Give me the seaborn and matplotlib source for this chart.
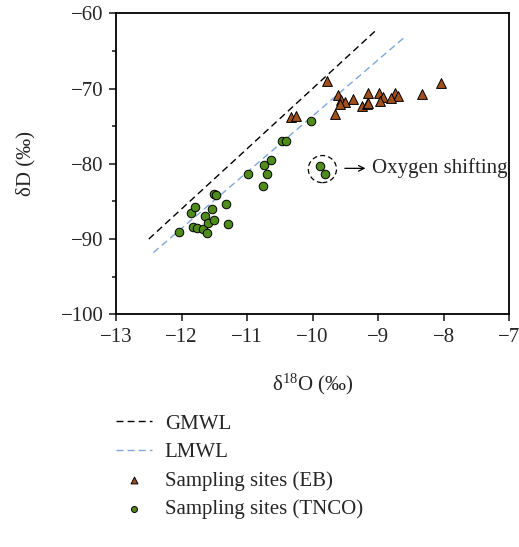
import numpy as np
import pandas as pd
import matplotlib
matplotlib.use("Agg")
import matplotlib.pyplot as plt
from matplotlib.patches import Ellipse
from matplotlib.ticker import MultipleLocator
import seaborn as sns

# meteoric water lines (end points)
gmwl_x = [-12.5, -9.05]
gmwl_y = [-90.0, -62.4]
lmwl_x = [-12.43, -8.60]
lmwl_y = [-91.8, -63.2]

# sampling sites (EB)
eb_o18 = [-9.78, -8.04, -8.33, -9.16, -8.99, -8.74, -8.70, -8.93, -9.61, -9.57,
          -9.51, -9.38, -9.58, -8.97, -8.81, -9.25, -9.17, -9.16, -9.66, -10.33,
          -10.26]
eb_dD = [-69.0, -69.2, -70.7, -70.6, -70.6, -70.6, -71.0, -71.1, -70.9, -71.5,
         -71.8, -71.4, -72.1, -71.6, -71.3, -72.3, -72.1, -71.9, -73.4, -73.8,
         -73.6]

# sampling sites (TNCO)
tnco_o18 = [-12.04, -11.86, -11.79, -11.83, -11.76, -11.67, -11.61, -11.64, -11.60,
            -11.53, -11.50, -11.51, -11.47, -11.32, -11.29, -10.98, -10.76, -10.74,
            -10.70, -10.63, -10.46, -10.41, -10.02, -9.89, -9.81]
tnco_dD = [-89.1, -86.5, -85.8, -88.4, -88.5, -88.6, -89.2, -86.9, -87.8,
           -86.0, -87.4, -84.0, -84.2, -85.3, -88.0, -81.4, -83.0, -80.1,
           -81.4, -79.5, -77.0, -76.9, -74.3, -80.3, -81.3]

sns.set_style("white")
plt.rcParams["font.family"] = ["Liberation Serif", "DejaVu Serif"]
plt.rcParams["axes.unicode_minus"] = True
FS = 15

fig = plt.figure(figsize=(5.19, 5.47), dpi=100)
ax = fig.add_axes([0.2235, 0.4254, 0.7575, 0.5502])

sns.lineplot(x=gmwl_x, y=gmwl_y, ax=ax, color="black", linewidth=1.0,
             linestyle=(0, (5, 3)), label="GMWL")
sns.lineplot(x=lmwl_x, y=lmwl_y, ax=ax, color="#7fa6e0", linewidth=1.0,
             linestyle=(0, (5, 3)), label="LMWL")

eb = pd.DataFrame({"o18": eb_o18, "dD": eb_dD})
tnco = pd.DataFrame({"o18": tnco_o18, "dD": tnco_dD})
sns.scatterplot(data=eb, x="o18", y="dD", ax=ax, marker="^", s=50,
                color="#a0501c", edgecolor="black", linewidth=0.7,
                label="Sampling sites (EB)", zorder=3)
sns.scatterplot(data=tnco, x="o18", y="dD", ax=ax, marker="o", s=38,
                color="#4f8c1b", edgecolor="black", linewidth=0.7,
                label="Sampling sites (TNCO)", zorder=3)

# oxygen shifting annotation
ax.add_patch(Ellipse((-9.85, -80.7), 0.43, 3.6, fill=False, linestyle=(0, (4, 2.5)),
                     edgecolor="black", linewidth=0.9))
ax.annotate("", xy=(-9.15, -80.6), xytext=(-9.55, -80.6),
            arrowprops=dict(arrowstyle="->", color="black", lw=0.9))
ax.text(-9.09, -80.6, "Oxygen shifting", fontsize=FS, va="center", ha="left")

ax.set_xlim(-13, -7)
ax.set_ylim(-100, -60)
ax.xaxis.set_major_locator(MultipleLocator(1))
ax.yaxis.set_major_locator(MultipleLocator(10))
ax.yaxis.set_minor_locator(MultipleLocator(5))
ax.tick_params(axis="both", which="major", direction="out", length=5, width=1.2,
               labelsize=FS, left=True, bottom=True)
ax.tick_params(axis="x", which="major", pad=5)
ax.tick_params(axis="y", which="major", pad=4)
ax.tick_params(axis="y", which="minor", direction="out", length=3, width=1.2, left=True)
for sp in ax.spines.values():
    sp.set_linewidth(1.3)
    sp.set_color("black")

ax.set_xlabel(r"$\mathregular{\delta^{18}O}$ (‰)", fontsize=FS, labelpad=18)
ax.set_ylabel("δD (‰)", fontsize=FS, labelpad=18)

handles, labels = ax.get_legend_handles_labels()
ax.get_legend().remove()
fig.legend(handles, labels, loc="upper left", bbox_to_anchor=(0.207, 0.258),
           frameon=False, fontsize=FS, handlelength=1.75, handletextpad=0.6,
           labelspacing=0.42, markerscale=0.7, borderaxespad=0)

fig.savefig("out.png", dpi=100)
plt.close(fig)
